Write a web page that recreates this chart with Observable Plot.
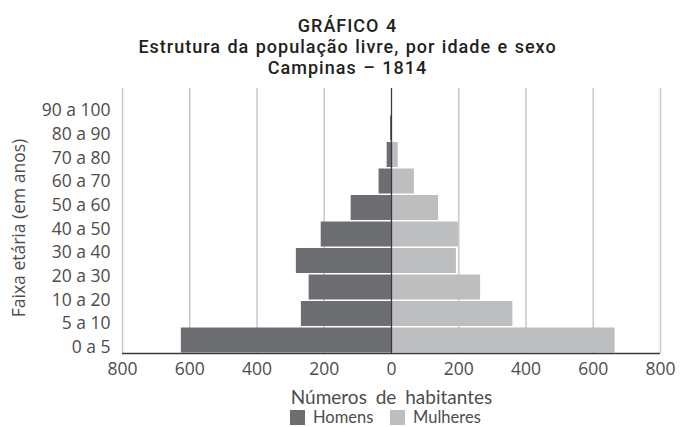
<!DOCTYPE html>
<html><head><meta charset="utf-8">
<script src="https://cdn.jsdelivr.net/npm/d3@7"></script>
<script src="https://cdn.jsdelivr.net/npm/@observablehq/plot@0.6"></script>
<style>
body{margin:0;background:#fff;width:683px;height:427px;overflow:hidden;position:relative;}
#title{font-family:Roboto,sans-serif;font-weight:500;font-size:18px;letter-spacing:1px;word-spacing:1px;color:#231f20;text-align:center;line-height:21px;height:76px;box-sizing:border-box;padding-top:15px;padding-left:12px;}
#chart svg{display:block;}
#chart svg g[aria-label="x-axis label"] text{word-spacing:4px;font-family:Lato,sans-serif;font-size:19px;}
#legend{position:absolute;left:0;top:407px;width:683px;display:flex;justify-content:center;padding-left:104px;box-sizing:border-box;}
</style></head><body>
<div id="title"><div>GRÁFICO 4</div><div>Estrutura da população livre, por idade e sexo</div><div>Campinas – 1814</div></div>
<div id="chart"></div>
<div id="legend"></div>
<script>
const faixas = ["0 a 5","5 a 10","10 a 20","20 a 30","30 a 40","40 a 50","50 a 60","60 a 70","70 a 80","80 a 90","90 a 100"];
const homens = [625, 268, 245, 283, 209, 120, 37, 13, 3, 0, 0];
const mulheres = [665, 361, 265, 193, 199, 140, 68, 20, 3, 0, 0];
const xTicks = [-800, -600, -400, -200, 0, 200, 400, 600, 800];
const sexos = ["Homens", "Mulheres"];
const cores = ["#6d6e71", "#bcbec0"];

const rows = faixas.flatMap((f, i) => [
  {faixa: f, i, sexo: sexos[0], v: -homens[i]},
  {faixa: f, i, sexo: sexos[1], v: mulheres[i]}
]);

// bars fill one unit each; the age labels are spread on their own band layout
const nBars = faixas.length - 1;
const labelBand = d3.scaleBand().domain(faixas).range([0, nBars]).paddingOuter(0.1);
const labelPos = faixas.map(f => labelBand(f) + labelBand.bandwidth() / 2);

const chart = Plot.plot({
  width: 683,
  height: 337,
  marginLeft: 122,
  marginRight: 23,
  marginTop: 12,
  marginBottom: 60,
  style: {fontFamily: "'Open Sans', sans-serif", fontSize: "17.5px", color: "#4d4d4d", background: "#fff"},
  x: {domain: [-800, 800]},
  y: {domain: [0, nBars]},
  color: {domain: sexos, range: cores},
  marks: [
    Plot.ruleX(xTicks.filter(d => d !== 0), {stroke: "#c8c8c8", strokeWidth: 1.5}),
    Plot.rectX(rows, {x1: 0, x2: "v", y1: "i", y2: d => d.i + 1, fill: "sexo", insetTop: 1, insetBottom: 0.5}),
    Plot.ruleX([0], {stroke: "#3a3a3a", strokeWidth: 1.3}),
    Plot.ruleY([0], {stroke: "#3a3a3a", strokeWidth: 1.5}),
    Plot.axisX({ticks: xTicks, tickFormat: d => Math.abs(d), tickSize: 0, tickPadding: 9, fontSize: 17.5,
      label: "Números de habitantes", labelAnchor: "center", labelOffset: 50, labelArrow: "none"}),
    Plot.axisY({ticks: labelPos,
      tickFormat: d => faixas[labelPos.indexOf(d)],
      tickSize: 0, tickPadding: 12, dy: 8, fontSize: 17.5, label: null}),
    Plot.text(["Faixa etária (em anos)"], {frameAnchor: "left", rotate: -90, dx: -103, dy: 7,
      fontSize: 17.5, fill: "#4d4d4d", textAnchor: "middle"})
  ]
});
document.getElementById("chart").appendChild(chart);
const leg = chart.legend("color", {swatchSize: 15});
leg.style.fontFamily = "Lato, sans-serif";
leg.style.fontSize = "16.5px";
leg.style.color = "#4d4d4d";
leg.style.minHeight = "20px";
leg.style.height = "20px";
leg.style.justifyContent = "center";
leg.style.margin = "0";
document.getElementById("legend").appendChild(leg);
</script>
</body></html>
